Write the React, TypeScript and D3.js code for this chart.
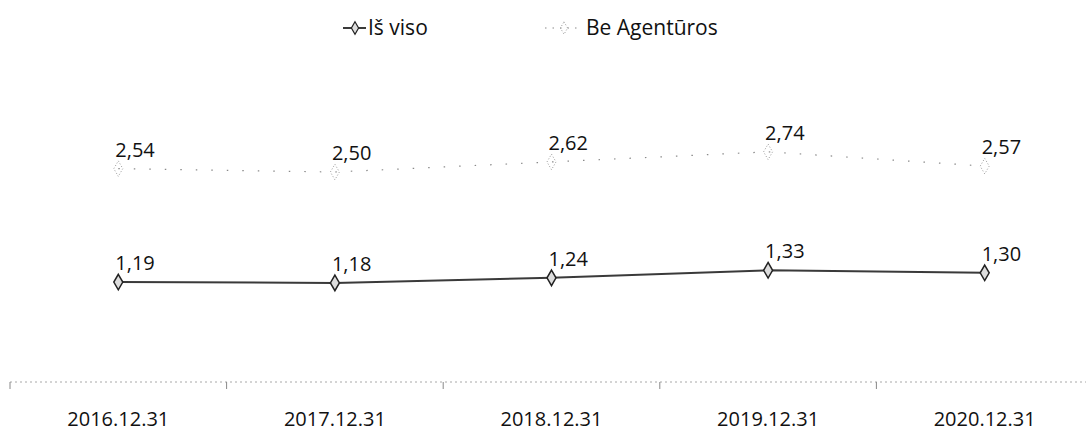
import React, { useEffect, useRef } from "react";
import * as d3 from "d3";

const categories = ["2016.12.31", "2017.12.31", "2018.12.31", "2019.12.31", "2020.12.31"];
const isVisoValues = [1.19, 1.18, 1.24, 1.33, 1.30];
const beAgenturosValues = [2.54, 2.50, 2.62, 2.74, 2.57];
const seriesNames = ["Iš viso", "Be Agentūros"];

const W = 1086;
const H = 434;
const FONT = "'Open Sans', 'Noto Sans', sans-serif";

export default function App() {
    const svgRef = useRef<SVGSVGElement>(null);

    useEffect(() => {
        const svg = d3.select(svgRef.current);
        svg.selectAll("*").remove();

        const x = d3.scaleBand().domain(categories).range([10, 1093]);
        const y = d3.scaleLinear().domain([0, 3.5]).range([382, 88]);
        const cx = (d: string) => (x(d) as number) + x.bandwidth() / 2;

        // axis line (dotted, light) with boundary ticks
        const axis = svg.append("g");
        axis.append("line")
            .attr("x1", 10).attr("x2", W)
            .attr("y1", y(0)).attr("y2", y(0))
            .attr("stroke", "#a8a8a8")
            .attr("stroke-width", 1)
            .attr("stroke-dasharray", "2,3");
        const bounds = categories.map(c => x(c) as number);
        axis.selectAll(".tk")
            .data(bounds)
            .join("line")
            .attr("x1", d => d).attr("x2", d => d)
            .attr("y1", y(0)).attr("y2", y(0) + 7)
            .attr("stroke", "#888")
            .attr("stroke-width", 1);
        axis.selectAll(".lbl")
            .data(categories)
            .join("text")
            .attr("x", d => cx(d))
            .attr("y", 426)
            .attr("text-anchor", "middle")
            .attr("font-family", FONT)
            .attr("font-size", 20)
            .attr("fill", "#111")
            .text(d => d);

        const line = d3.line<number>()
            .x((d, i) => cx(categories[i]))
            .y(d => y(d));

        // Be Agentūros - faint dotted
        svg.append("path")
            .datum(beAgenturosValues)
            .attr("d", line)
            .attr("fill", "none")
            .attr("stroke", "#8a8a8a")
            .attr("stroke-width", 1.2)
            .attr("stroke-dasharray", "1.5,14");
        svg.selectAll(".mb")
            .data(beAgenturosValues)
            .join("path")
            .attr("d", d3.symbol(d3.symbolDiamond, 70))
            .attr("transform", (d, i) => `translate(${cx(categories[i])},${y(d)})`)
            .attr("fill", "none")
            .attr("stroke", "#9a9a9a")
            .attr("stroke-width", 1)
            .attr("stroke-dasharray", "1,2");

        // Iš viso - solid dark
        svg.append("path")
            .datum(isVisoValues)
            .attr("d", line)
            .attr("fill", "none")
            .attr("stroke", "#3a3a3a")
            .attr("stroke-width", 2);
        svg.selectAll(".mi")
            .data(isVisoValues)
            .join("path")
            .attr("d", d3.symbol(d3.symbolDiamond, 70))
            .attr("transform", (d, i) => `translate(${cx(categories[i])},${y(d)})`)
            .attr("fill", "#ddd")
            .attr("stroke", "#222")
            .attr("stroke-width", 1.5);

        // data labels
        const fmt = (v: number) => v.toFixed(2).replace(".", ",");
        [isVisoValues, beAgenturosValues].forEach(vals => {
            svg.append("g")
                .selectAll("text")
                .data(vals)
                .join("text")
                .attr("x", (d, i) => cx(categories[i]) - 3)
                .attr("y", d => y(d) - 12)
                .attr("font-family", FONT)
                .attr("font-size", 20)
                .attr("fill", "#111")
                .text(d => fmt(d));
        });

        // legend
        const lg = svg.append("g").attr("transform", "translate(0,28)");
        lg.append("line")
            .attr("x1", 343).attr("x2", 366).attr("y1", 0).attr("y2", 0)
            .attr("stroke", "#3a3a3a").attr("stroke-width", 2);
        lg.append("path")
            .attr("d", d3.symbol(d3.symbolDiamond, 45))
            .attr("transform", "translate(355,0)")
            .attr("fill", "#ddd").attr("stroke", "#222").attr("stroke-width", 1.2);
        lg.append("text")
            .attr("x", 368).attr("y", 7)
            .attr("font-family", FONT).attr("font-size", 21).attr("fill", "#111")
            .text(seriesNames[0]);
        lg.append("line")
            .attr("x1", 545).attr("x2", 582).attr("y1", 0).attr("y2", 0)
            .attr("stroke", "#8a8a8a").attr("stroke-width", 1.2)
            .attr("stroke-dasharray", "1.5,6");
        lg.append("path")
            .attr("d", d3.symbol(d3.symbolDiamond, 45))
            .attr("transform", "translate(564,0)")
            .attr("fill", "none").attr("stroke", "#9a9a9a").attr("stroke-width", 1)
            .attr("stroke-dasharray", "1,2");
        lg.append("text")
            .attr("x", 586).attr("y", 7)
            .attr("font-family", FONT).attr("font-size", 21).attr("fill", "#111")
            .text(seriesNames[1]);
    }, []);

    return (
        <svg ref={svgRef} width={W} height={H}
             style={{position: "absolute", left: 0, top: 0, background: "white"}} />
    );
}
